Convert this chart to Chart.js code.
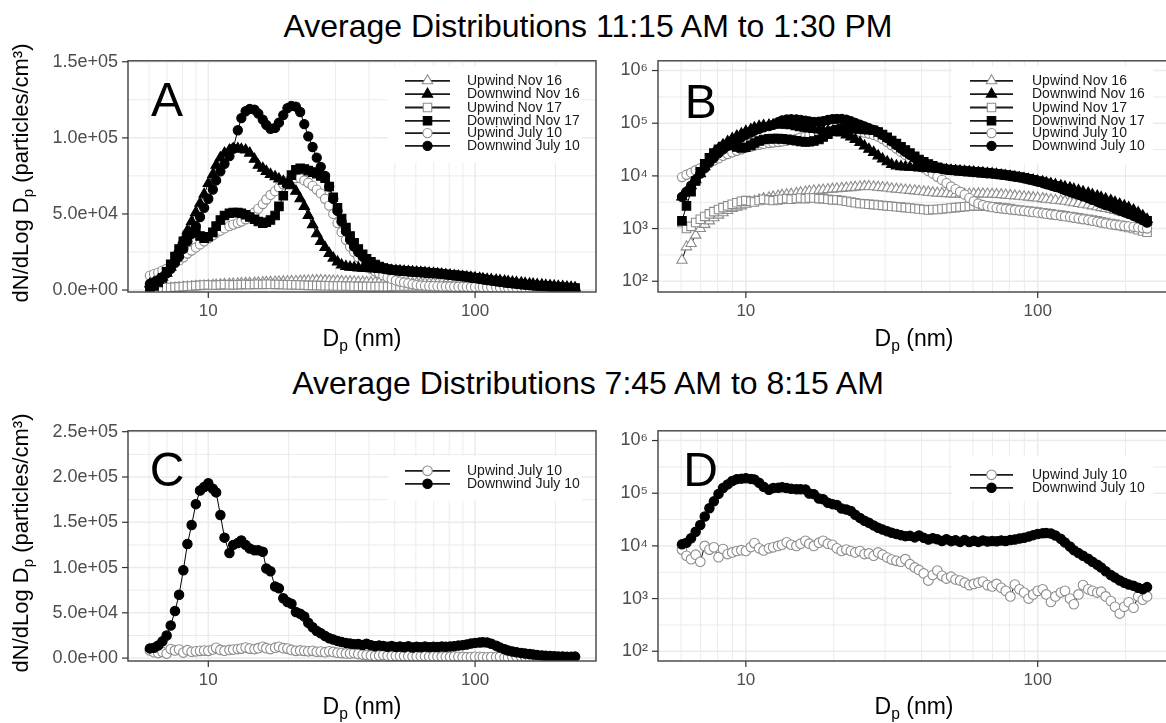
<!DOCTYPE html>
<html>
<head>
<meta charset="utf-8">
<script src="https://cdn.jsdelivr.net/npm/chart.js@4.4.1/dist/chart.umd.min.js"></script>
<style>
html,body{margin:0;padding:0;background:#fff;overflow:hidden;width:1166px;height:723px;}
body{position:relative;font-family:"Liberation Sans",Arial,Helvetica,sans-serif;color:#000;}
.box{position:absolute;}
.title{position:absolute;left:0;width:1176px;text-align:center;font-size:32px;line-height:32px;white-space:nowrap;}
.ytitle{position:absolute;font-size:22px;line-height:22px;white-space:nowrap;transform:translate(-50%,-50%) rotate(-90deg);}
.xtitle{position:absolute;font-size:23px;line-height:23px;white-space:nowrap;transform:translateX(-50%);}
.sub{font-size:0.68em;position:relative;top:0.32em;}
</style>
</head>
<body>
<div class="title" style="top:10px">Average Distributions 11:15 AM to 1:30 PM</div>
<div class="title" style="top:367px">Average Distributions 7:45 AM to 8:15 AM</div>

<div class="box" style="left:0;top:40px;width:610px;height:320px"><canvas id="cA"></canvas></div>
<div class="box" style="left:600px;top:40px;width:590px;height:320px"><canvas id="cB"></canvas></div>
<div class="box" style="left:0;top:410px;width:610px;height:313px"><canvas id="cC"></canvas></div>
<div class="box" style="left:600px;top:410px;width:590px;height:313px"><canvas id="cD"></canvas></div>

<div class="ytitle" style="left:22px;top:173px">dN/dLog D<span class="sub">p</span> (particles/cm³)</div>
<div class="ytitle" style="left:22px;top:543px">dN/dLog D<span class="sub">p</span> (particles/cm³)</div>
<div class="xtitle" style="left:362px;top:327px">D<span class="sub">p</span> (nm)</div>
<div class="xtitle" style="left:914px;top:327px">D<span class="sub">p</span> (nm)</div>
<div class="xtitle" style="left:362px;top:695px">D<span class="sub">p</span> (nm)</div>
<div class="xtitle" style="left:914px;top:695px">D<span class="sub">p</span> (nm)</div>

<script>
// ---------------- DATA ----------------
// particle diameter bins (nm)
const xBins = [6.04,6.26,6.49,6.73,6.98,7.23,7.50,7.77,8.06,8.35,
 8.66,8.98,9.31,9.65,10.0,10.4,10.7,11.1,11.5,12.0,
 12.4,12.9,13.3,13.8,14.3,14.9,15.4,16.0,16.5,17.1,
 17.8,18.4,19.1,19.8,20.5,21.3,22.1,22.9,23.7,24.6,
 25.5,26.4,27.4,28.4,29.4,30.5,31.6,32.8,34.0,35.2,
 36.5,37.9,39.2,40.7,42.2,43.7,45.3,47.0,48.7,50.5,
 52.3,54.2,56.2,58.3,60.4,62.6,64.9,67.3,69.8,72.3,
 75.0,77.7,80.6,83.5,86.6,89.8,93.1,96.5,100,104,
 107,111,115,120,124,129,133,138,143,149,
 154,160,165,171,178,184,191,198,205,213,
 221,229,237];

// Midday (11:15 AM - 1:30 PM) series
const upNov16 = [250,450,520,750,1000,1200,1400,1600,1800,2000,
 2200,2400,2550,2700,2900,3100,3300,3500,3700,3850,
 4000,4150,4300,4400,4500,4650,4800,4950,5100,5200,
 5300,5400,5500,5600,5700,5800,5900,6000,6100,6200,
 6300,6300,6200,6100,6000,5900,5700,5600,5500,5400,
 5300,5200,5100,5000,4900,4800,4700,4650,4600,4550,
 4500,4500,4500,4520,4550,4560,4550,4530,4500,4450,
 4400,4320,4250,4170,4100,4020,3950,3870,3800,3700,
 3600,3520,3450,3370,3300,3200,3100,3000,2900,2800,
 2700,2600,2500,2400,2300,2200,2100,2000,1900,1780,
 1650,1520,1400];
const dnNov16 = [4000,5000,6500,8500,11000,15000,21000,27000,33000,39000,
 45000,51000,57000,63000,70000,76000,82000,87000,90000,92000,
 93000,93000,92500,92000,90000,86000,82000,80000,78000,76000,
 74500,73000,71500,70000,68500,65000,60000,55000,49000,43000,
 37000,32000,28000,24000,21000,18500,16500,15500,15000,14800,
 14600,14400,14200,14000,13800,13600,13400,13200,13000,12800,
 12600,12400,12200,12000,11800,11600,11400,11200,11000,10700,
 10400,10100,9800,9500,9200,8900,8600,8300,8000,7700,
 7400,7100,6800,6500,6200,5900,5600,5300,5000,4700,
 4400,4150,3900,3650,3400,3150,2900,2700,2500,2250,
 2000,1750,1500];
const upNov17 = [1300,1000,1100,1300,1500,1700,1900,2100,2300,2500,
 2700,2900,3100,3300,3400,3300,3200,3400,3600,3500,
 3400,3500,3600,3700,3600,3700,3800,3700,3800,3800,
 3700,3700,3600,3500,3500,3400,3300,3200,3100,3000,
 2950,2900,2850,2800,2750,2700,2650,2600,2550,2500,
 2450,2400,2350,2300,2250,2300,2300,2350,2400,2450,
 2500,2550,2600,2650,2700,2700,2700,2650,2600,2550,
 2500,2450,2400,2300,2250,2200,2150,2100,2050,2000,
 1950,1900,1850,1800,1750,1700,1650,1600,1550,1500,
 1450,1400,1350,1300,1250,1200,1150,1100,1050,1000,
 950,900,850];
const dnNov17 = [1400,2700,5000,8000,12000,17000,22000,27000,32000,36000,
 38500,38000,35500,34000,35000,38000,42000,46000,49000,50500,
 51000,51000,50500,49500,48000,46500,45000,44000,44500,46000,
 49000,55000,62000,70000,75500,79000,80000,79500,78500,77500,
 76500,75000,73500,68000,61000,54000,47000,41000,35500,31000,
 27000,23500,20500,18500,16800,15500,14500,13800,13300,13000,
 12800,12600,12400,12200,12000,11800,11600,11400,11200,11000,
 10700,10400,10100,9800,9500,9200,8800,8400,8000,7600,
 7200,6800,6400,6000,5600,5200,4900,4600,4300,4000,
 3700,3450,3200,3000,2800,2600,2400,2200,2000,1850,
 1700,1550,1400];
const upJul10 = [9500,10500,11500,12800,14000,15500,17500,19500,21500,24000,
 26000,28000,30000,32000,34000,36000,37500,39000,40500,42000,
 43000,44000,45000,46500,48500,51000,53500,56500,59500,62500,
 65000,67500,69500,71500,72800,73500,73500,72000,70500,68500,
 66000,63500,60000,55500,50000,44000,38000,33000,28500,25000,
 21500,18500,16000,14000,12300,11000,9600,8400,7300,6300,
 5600,5000,4400,3800,3300,3000,2800,2650,2550,2450,
 2400,2350,2300,2250,2200,2150,2100,2050,2000,1950,
 1900,1850,1800,1750,1700,1650,1600,1550,1500,1450,
 1400,1350,1300,1250,1200,1180,1150,1120,1100,1080,
 1050,1020,1000];
const dnJul10 = [4000,5000,6500,8500,11000,14000,18000,22000,27000,32000,
 37000,42000,48000,54000,60000,66000,72000,78000,83000,88000,
 93000,105000,113000,117500,119000,118500,116000,112000,108500,106000,
 106500,110000,115000,119500,121000,120500,117000,109000,101000,94000,
 87000,81000,75000,68000,60000,52000,45000,38500,33000,28500,
 25000,22000,19500,17500,16000,15000,14200,13600,13200,12900,
 12600,12400,12200,12000,11800,11600,11400,11200,11000,10800,
 10600,10300,10000,9700,9400,9000,8600,8200,7800,7400,
 7000,6600,6200,5800,5400,5000,4700,4400,4100,3800,
 3500,3250,3000,2800,2600,2400,2200,2050,1900,1750,
 1600,1450,1300];

// Morning (7:45 AM - 8:15 AM) series
const upJul10am = [8500,6500,5600,6800,5000,10000,8500,9400,6100,8700,
 7000,7500,8000,8300,8000,9500,11300,9000,8200,9000,
 9400,10000,10500,11700,10500,10000,11000,12500,11000,10000,
 11500,12500,11000,10500,9000,8000,8500,8000,7500,8000,
 7000,7200,6500,7500,6800,6000,5500,5200,5000,5600,
 4500,3900,3500,3000,2200,2800,3400,2700,2400,2600,
 2300,2200,2000,1800,1900,2000,2100,1800,1700,1900,
 1600,1400,1100,1850,1500,1300,1000,1200,1400,1500,
 1200,860,1100,1300,1400,1000,780,1200,1800,1500,
 1400,1300,1350,1100,900,700,520,700,850,670,
 1100,950,1100];
const dnJul10am = [10700,11500,14000,18500,25000,36000,52000,70000,97000,126000,
 147000,170000,185000,189000,193000,187000,183000,158000,133000,116000,
 125000,127000,130000,125000,121000,119000,119000,117500,99000,96000,
 79000,77000,66000,62000,60000,51000,49000,46000,39000,34000,
 30000,27500,24500,22000,20500,19000,17800,16800,16000,15300,
 15500,14500,15800,14200,13200,14000,13300,12400,13400,12300,
 12800,11900,13000,11800,12500,11900,12700,12100,12400,12200,
 12700,12400,12900,13200,13800,14300,15000,16000,16800,17300,
 17500,17200,15800,13600,11600,9700,8300,7300,6500,5700,
 5000,4400,3900,3300,2800,2500,2200,2000,1850,1750,
 1600,1500,1650];

// axis ticks / labels
const xTickVals = [10, 100];
const xGridVals = [6,7,8,9,10,20,30,40,50,60,70,80,90,100,200];
const linTicksA = [0, 50000, 100000, 150000];
const linMinorA = [25000, 75000, 125000];
const linTicksC = [0, 50000, 100000, 150000, 200000, 250000];
const linMinorC = [25000, 75000, 125000, 175000, 225000];
const logTicks = [100, 1000, 10000, 100000, 1000000];
const logLabels = ['10²','10³','10⁴','10⁵','10⁶'];
const logMinor = [316.2, 3162, 31623, 316228];
const labelsMidday = ['Upwind Nov 16','Downwind Nov 16','Upwind Nov 17','Downwind Nov 17','Upwind July 10','Downwind July 10'];
const labelsMorning = ['Upwind July 10','Downwind July 10'];

// ---------------- CHART ----------------
const FONT = '"Liberation Sans", Arial, Helvetica, sans-serif';
Chart.defaults.font.family = FONT;

function linLabel(v){
  if (v === 0) return '0.0e+00';
  const e = Math.floor(Math.log10(v));
  const m = v / Math.pow(10, e);
  return m.toFixed(1) + 'e+' + String(e).padStart(2,'0');
}

function ds(label, vals, style, filled, r, order){
  return {
    label, order,
    data: xBins.map((d,i)=>({x:d, y:vals[i]})),
    showLine: true, borderColor:'#000', borderWidth:1,
    pointStyle: style, pointRadius: r, pointHoverRadius: r,
    pointBackgroundColor: filled ? '#000' : '#fff',
    pointBorderColor: filled ? '#000' : '#8c8c8c',
    pointBorderWidth: 1.1
  };
}

function middaySets(){
  return [
    ds(labelsMidday[0], upNov16, 'triangle', false, 6, 6),
    ds(labelsMidday[1], dnNov16, 'triangle', true, 6, 3),
    ds(labelsMidday[2], upNov17, 'rect', false, 6, 5),
    ds(labelsMidday[3], dnNov17, 'rect', true, 6, 2),
    ds(labelsMidday[4], upJul10, 'circle', false, 4.6, 4),
    ds(labelsMidday[5], dnJul10, 'circle', true, 4.6, 1)
  ];
}
function morningSets(){
  return [
    ds(labelsMorning[0], upJul10am, 'circle', false, 4.8, 2),
    ds(labelsMorning[1], dnJul10am, 'circle', true, 4.7, 1)
  ];
}

function marker(ctx, style, r, x, y, fill, stroke, lw){
  ctx.beginPath();
  if (style === 'circle') ctx.arc(x, y, r, 0, Math.PI*2);
  else if (style === 'triangle'){
    ctx.moveTo(x, y - r); ctx.lineTo(x + 0.866*r, y + 0.5*r); ctx.lineTo(x - 0.866*r, y + 0.5*r); ctx.closePath();
  } else { const s = r*Math.SQRT1_2; ctx.rect(x - s, y - s, 2*s, 2*s); }
  ctx.fillStyle = fill; ctx.fill();
  ctx.lineWidth = lw; ctx.strokeStyle = stroke; ctx.stroke();
}

const PANELS = {
  cA: {yMajor: linTicksA, yMinor: linMinorA, letter:'A', letterDy:55,
       box:[260,5,454,102], line:[277,322], textX:339, rows:[20,33.3,46.7,60,72.3,85]},
  cB: {yMajor: logTicks, yMinor: logMinor, letter:'B', letterDy:57,
       box:[294,5,495,103], line:[312,355], textX:374, rows:[20,33.3,46.7,60,72.3,85]},
  cC: {yMajor: linTicksC, yMinor: linMinorC, letter:'C', letterDy:55,
       box:[260,25,454,70], line:[277,322], textX:339, rows:[40,53]},
  cD: {yMajor: logTicks, yMinor: logMinor, letter:'D', letterDy:55,
       box:[294,25,495,70], line:[312,355], textX:374, rows:[44,57]}
};

const panelPlugin = {
  id: 'panelDeco',
  beforeDatasetsDraw(chart){
    const P = PANELS[chart.canvas.id]; if (!P) return;
    const {ctx, chartArea:a, scales:{x, y}} = chart;
    ctx.save();
    ctx.fillStyle = '#fff'; ctx.fillRect(a.left, a.top, a.width, a.height);
    ctx.strokeStyle = '#ebebeb';
    const h = (v, w) => { const p = y.getPixelForValue(v); ctx.lineWidth = w; ctx.beginPath(); ctx.moveTo(a.left, p); ctx.lineTo(a.right, p); ctx.stroke(); };
    const vv = (v, w) => { const p = x.getPixelForValue(v); ctx.lineWidth = w; ctx.beginPath(); ctx.moveTo(p, a.top); ctx.lineTo(p, a.bottom); ctx.stroke(); };
    P.yMinor.forEach(v => h(v, 1));
    xGridVals.forEach(v => vv(v, xTickVals.includes(v) ? 1.5 : 1));
    P.yMajor.forEach(v => h(v, 1.5));
    ctx.restore();
  },
  afterDatasetsDraw(chart){
    const P = PANELS[chart.canvas.id]; if (!P) return;
    const {ctx, chartArea:a, scales:{x, y}} = chart;
    ctx.save();
    // legend
    const L = a.left, T = a.top;
    ctx.fillStyle = '#fff';
    ctx.fillRect(L + P.box[0], T + P.box[1], P.box[2]-P.box[0], P.box[3]-P.box[1]);
    chart.data.datasets.forEach((d, i) => {
      const ry = T + P.rows[i];
      ctx.strokeStyle = '#1a1a1a'; ctx.lineWidth = 1.8;
      ctx.beginPath(); ctx.moveTo(L + P.line[0], ry); ctx.lineTo(L + P.line[1], ry); ctx.stroke();
      marker(ctx, d.pointStyle, d.pointRadius, L + (P.line[0]+P.line[1])/2, ry, d.pointBackgroundColor, d.pointBorderColor, 1.1);
      ctx.fillStyle = '#1a1a1a'; ctx.font = '14px ' + FONT; ctx.textBaseline = 'middle'; ctx.textAlign = 'left';
      ctx.fillText(d.label, L + P.textX, ry + 0.5);
    });
    // letter
    ctx.fillStyle = '#000'; ctx.font = '48px ' + FONT; ctx.textAlign = 'center'; ctx.textBaseline = 'alphabetic';
    ctx.fillText(P.letter, x.getPixelForValue(7), T + P.letterDy);
    // border
    ctx.strokeStyle = '#4d4d4d'; ctx.lineWidth = 1.5;
    ctx.strokeRect(a.left, a.top, a.width, a.height);
    // tick marks
    ctx.strokeStyle = '#333'; ctx.lineWidth = 1.2;
    P.yMajor.forEach(v => { const p = y.getPixelForValue(v); ctx.beginPath(); ctx.moveTo(a.left - 6, p); ctx.lineTo(a.left, p); ctx.stroke(); });
    xTickVals.forEach(v => { const p = x.getPixelForValue(v); ctx.beginPath(); ctx.moveTo(p, a.bottom); ctx.lineTo(p, a.bottom + 6); ctx.stroke(); });
    ctx.restore();
  }
};

function makeChart(id, sets, yType, yMin, yMax, yTicks, yLabelFn, yWidth, xHeight, padRight){
  new Chart(document.getElementById(id), {
    type: 'scatter',
    data: { datasets: sets },
    plugins: [panelPlugin],
    options: {
      responsive: true, maintainAspectRatio: false, animation: false, events: [],
      layout: { padding: { top: 15, right: padRight, left: 0, bottom: 0 } },
      plugins: { legend: { display: false }, tooltip: { enabled: false } },
      scales: {
        x: {
          type: 'logarithmic', min: 5.0, max: 284, bounds: 'data',
          afterBuildTicks: s => { s.ticks = xTickVals.map(v => ({value: v})); },
          afterFit: s => { s.height = xHeight; },
          ticks: { callback: v => String(v), font: { size: 17, family: FONT }, color: '#4d4d4d', padding: 9, maxRotation: 0, autoSkip: false },
          grid: { display: false, drawTicks: false }, border: { display: false }
        },
        y: {
          type: yType, min: yMin, max: yMax, bounds: 'data',
          afterBuildTicks: s => { s.ticks = yTicks.map(v => ({value: v})); },
          afterFit: s => { s.width = yWidth; },
          ticks: { callback: (v, i) => yLabelFn(v, i), font: { size: 18, family: FONT }, color: '#4d4d4d', padding: 10, autoSkip: false },
          grid: { display: false, drawTicks: false }, border: { display: false }
        }
      }
    }
  });
}

const logLabelFn = (v) => { const k = logTicks.indexOf(v); return k >= 0 ? logLabels[k] : ''; };

makeChart('cA', middaySets(), 'linear', -1280, 150640, linTicksA, v => linLabel(v), 128, 68, 14);
makeChart('cB', middaySets(), 'logarithmic', 62.5, 1.53e6, logTicks, logLabelFn, 58, 68, 20);
makeChart('cC', morningSets(), 'linear', -3200, 251000, linTicksC, v => linLabel(v), 128, 62, 14);
makeChart('cD', morningSets(), 'logarithmic', 65.3, 1.53e6, logTicks, logLabelFn, 58, 62, 20);
</script>
</body>
</html>
